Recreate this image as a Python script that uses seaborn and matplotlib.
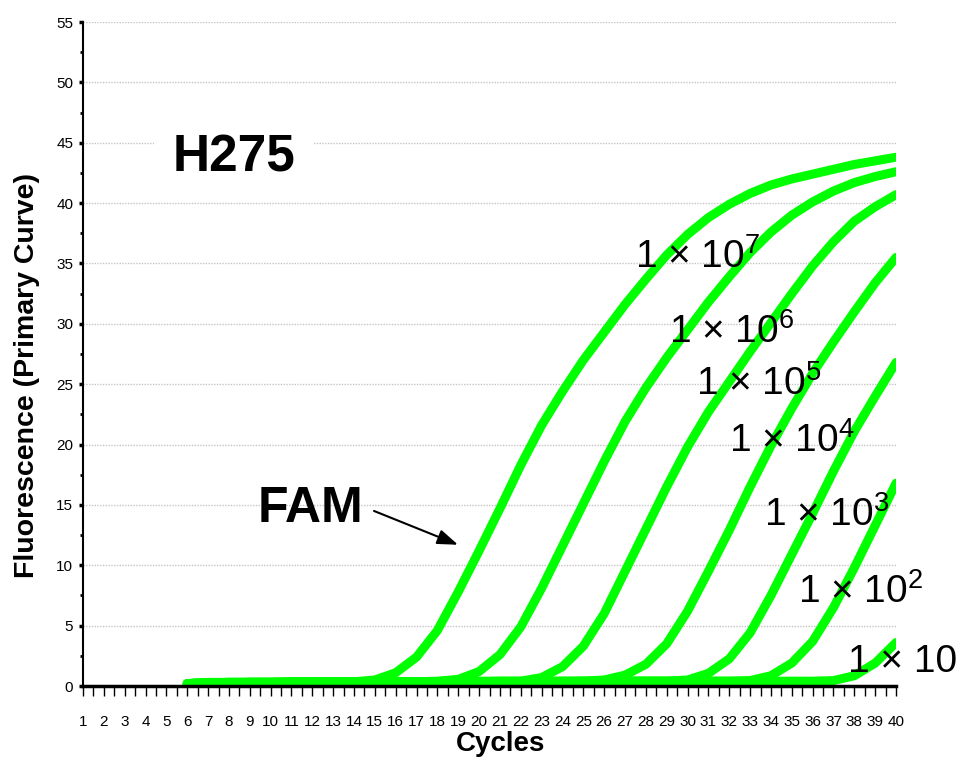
import pandas as pd
import seaborn as sns
import matplotlib.pyplot as plt
from matplotlib import font_manager

# x axis: curves are drawn from cycle 6 to cycle 40
cycles = list(range(6, 41))

# FAM fluorescence per cycle for each standard
fam_1e7 = [0.15, 0.25, 0.3, 0.3, 0.3, 0.35, 0.35, 0.35, 0.35,
           0.5, 1.1, 2.4, 4.6, 7.8, 11.2, 14.7, 18.3, 21.6, 24.4, 27.0, 29.3, 31.6,
           33.7, 35.7, 37.4, 38.8, 39.9, 40.8, 41.5, 42.0, 42.4, 42.8, 43.2, 43.5, 43.8]
fam_1e6 = [0.2, 0.3, 0.3, 0.3, 0.3, 0.35, 0.35, 0.35, 0.35, 0.35, 0.35, 0.35, 0.4,
           0.55, 1.2, 2.6, 4.9, 8.1, 11.6, 15.1, 18.6, 21.9, 24.7, 27.2, 29.5, 31.8,
           33.9, 35.9, 37.6, 39.0, 40.1, 41.0, 41.7, 42.2, 42.6]
fam_1e5 = [0.2, 0.25, 0.3, 0.3, 0.3, 0.3, 0.35, 0.35, 0.35, 0.35, 0.35, 0.35, 0.35,
           0.4, 0.4, 0.4, 0.4,
           0.7, 1.6, 3.3, 6.0, 9.5, 13.0, 16.5, 19.8, 22.7, 25.2, 27.7, 30.1, 32.5,
           34.8, 36.8, 38.5, 39.7, 40.7]
fam_1e4 = [0.2, 0.25, 0.3, 0.3, 0.3, 0.3, 0.3, 0.35, 0.35, 0.35, 0.35, 0.35, 0.35,
           0.35, 0.35, 0.4, 0.4, 0.4, 0.4, 0.4,
           0.5, 0.9, 1.8, 3.5, 6.2, 9.5, 12.9, 16.5, 19.9, 23.0, 25.9, 28.5, 31.0,
           33.4, 35.5]
fam_1e3 = [0.2, 0.25, 0.25, 0.3, 0.3, 0.3, 0.3, 0.3, 0.3, 0.35, 0.35, 0.35, 0.35,
           0.35, 0.35, 0.35, 0.35, 0.4, 0.4, 0.4, 0.4, 0.4, 0.4, 0.4,
           0.5, 1.05, 2.25, 4.4, 7.5, 10.9, 14.3, 17.8, 21.1, 24.0, 26.8]
fam_1e2 = [0.2, 0.25, 0.25, 0.3, 0.3, 0.3, 0.3, 0.3, 0.3, 0.3, 0.35, 0.35, 0.35,
           0.35, 0.35, 0.35, 0.35, 0.35, 0.35, 0.4, 0.4, 0.4, 0.4, 0.4, 0.4, 0.4, 0.4,
           0.45, 0.85, 1.9, 3.7, 6.5, 9.8, 13.3, 16.8]
fam_1e1 = [0.2, 0.25, 0.25, 0.3, 0.3, 0.3, 0.3, 0.3, 0.3, 0.3, 0.3, 0.35, 0.35,
           0.35, 0.35, 0.35, 0.35, 0.35, 0.35, 0.35, 0.35, 0.4, 0.4, 0.4, 0.4, 0.4,
           0.4, 0.4, 0.4, 0.4, 0.4,
           0.45, 0.85, 1.9, 3.6]

standards = ["1e7", "1e6", "1e5", "1e4", "1e3", "1e2", "1e1"]
series = [fam_1e7, fam_1e6, fam_1e5, fam_1e4, fam_1e3, fam_1e2, fam_1e1]
copy_labels = ["1 × $10^{7}$", "1 × $10^{6}$", "1 × $10^{5}$", "1 × $10^{4}$",
               "1 × $10^{3}$", "1 × $10^{2}$", "1 × 10"]

# long table for seaborn
frames = []
for name, vals in zip(standards, series):
    frames.append(pd.DataFrame({"cycle": cycles, "fluorescence": vals, "standard": name}))
df = pd.concat(frames, ignore_index=True)

sns.set_style("white")
plt.rcParams["font.family"] = ["Liberation Sans", "DejaVu Sans"]
plt.rcParams["mathtext.fontset"] = "custom"
plt.rcParams["mathtext.rm"] = "Liberation Sans"
plt.rcParams["mathtext.it"] = "Liberation Sans:italic"
plt.rcParams["mathtext.bf"] = "Liberation Sans:bold"
plt.rcParams["text.color"] = "black"
plt.rcParams["axes.labelcolor"] = "black"
plt.rcParams["xtick.color"] = "black"
plt.rcParams["ytick.color"] = "black"

# narrow font for the tick numbers if there is one
names = {f.name for f in font_manager.fontManager.ttflist}
if "Liberation Sans Narrow" in names:
    tick_font, x_tick_size = "Liberation Sans Narrow", 13
else:
    tick_font, x_tick_size = "Liberation Sans", 11

fig, ax = plt.subplots(figsize=(9.64, 7.67), dpi=100)
fig.subplots_adjust(left=0.0861, right=0.9295, bottom=0.1056, top=0.9713)

sns.lineplot(data=df, x="cycle", y="fluorescence", hue="standard",
             palette=["#00ff00"] * len(standards), linewidth=6.5,
             legend=False, estimator=None, ax=ax)

ax.set_xlim(1, 40)
ax.set_ylim(0, 55)
ax.set_xticks(range(1, 41))
ax.set_xticks([c + 0.5 for c in range(1, 40)], minor=True)
ax.set_yticks(range(0, 56, 5))
ax.set_yticks([v + 2.5 for v in range(0, 55, 5)], minor=True)

ax.yaxis.grid(True, which="major", color="#c4c4c4", linestyle=(0, (1, 1)), linewidth=1)
ax.xaxis.grid(False)

for side in ["top", "right"]:
    ax.spines[side].set_visible(False)
ax.spines["bottom"].set_linewidth(2.5)
ax.spines["bottom"].set_color("black")
ax.spines["left"].set_linewidth(1.5)
ax.spines["left"].set_color("black")

ax.tick_params(axis="x", which="both", direction="out", length=7, width=1,
               color="black", pad=14, labelsize=x_tick_size, bottom=True)
ax.tick_params(axis="y", which="major", direction="out", length=3, width=2.5,
               color="black", pad=4, labelsize=11, left=True)
ax.tick_params(axis="y", which="minor", direction="out", length=2, width=2,
               color="black", left=True)
for t in ax.get_xticklabels() + ax.get_yticklabels():
    t.set_fontfamily(tick_font)

ax.set_xlabel("Cycles", fontsize=20, fontweight="bold", va="center")
ax.xaxis.set_label_coords(0.513, -0.0873)
ax.set_ylabel("Fluorescence (Primary Curve)", fontsize=20.5, fontweight="bold", va="center")
ax.yaxis.set_label_coords(-0.069, 0.467)

# title box and dye label
ax.text(8.22, 42.6, "H275", fontsize=37, fontweight="bold", ha="center", va="baseline",
        bbox=dict(boxstyle="square,pad=0.35", fc="white", ec="none"), zorder=3)
ax.text(11.9, 13.6, "FAM", fontsize=36, fontweight="bold", ha="center", va="baseline", zorder=3)
ax.annotate("", xy=(18.99, 11.7), xytext=(14.96, 14.5),
            arrowprops=dict(arrowstyle="-|>,head_length=0.5,head_width=0.18",
                            color="black", lw=1.5, mutation_scale=25,
                            shrinkA=0, shrinkB=0), zorder=3)

# copy-number labels next to each curve
label_x = [27.5, 29.1, 30.4, 32.0, 33.65, 35.3, 37.7]
label_y = [34.6, 28.4, 24.1, 19.4, 13.3, 6.9, 1.16]
for txt, lx, ly in zip(copy_labels, label_x, label_y):
    ax.text(lx, ly, txt, fontsize=28, ha="left", va="baseline", color="black",
            clip_on=False, zorder=4)

fig.savefig("out.png", dpi=100)
